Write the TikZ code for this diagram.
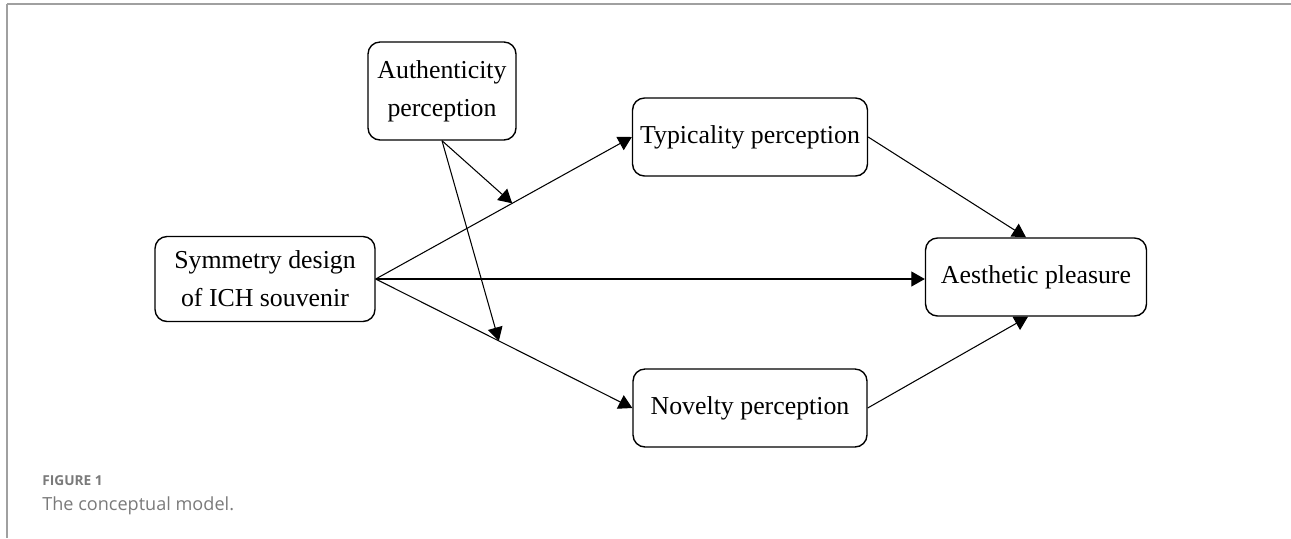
\documentclass[tikz,border=0pt]{standalone}
\usepackage{fontspec}
\setmainfont{Liberation Serif}
\newfontfamily\capfont{Open Sans}
\usetikzlibrary{arrows.meta,calc}
\definecolor{framegray}{HTML}{A0A0A0}
\definecolor{capgray}{HTML}{7A7A7A}
\tikzset{
  box/.style={draw, thick, rounded corners=0.24cm, align=center, inner sep=0pt,
    font=\fontsize{14.7}{21.5}\selectfont},
  link/.style={semithick, -{Triangle[length=0.27cm,width=0.3cm]}},
}
\begin{document}
\begin{tikzpicture}[x=0.02cm,y=-0.02cm]
\useasboundingbox (0,0) rectangle (1291,538);
% frame of the figure
\draw[framegray, thick] (7,4) -- (1291,4);
\draw[framegray, thick] (7,4) -- (7,538);
% boxes
\node[box, minimum width=2.96cm, minimum height=1.96cm] (auth) at (442,91) {Authenticity\\perception};
\node[box, minimum width=4.4cm, minimum height=1.7cm] (sym) at (265,279) {Symmetry design\\of ICH souvenir};
\node[box, minimum width=4.7cm, minimum height=1.56cm] (typ) at (750,137) {Typicality perception};
\node[box, minimum width=4.42cm, minimum height=1.56cm] (aes) at (1036,277) {Aesthetic pleasure};
\node[box, minimum width=4.68cm, minimum height=1.56cm] (nov) at (750,408) {Novelty perception};
% paths
\draw[link] (sym.east) -- (typ.west);
\draw[link] (sym.east) -- (sym.east -| aes.west);
\draw[link] (sym.east) -- (nov.west);
\draw[link] (typ.east) -- ($(aes.north)+(-10,0)$);
\draw[link] (nov.east) -- ($(aes.south)+(-8,0)$);
% moderation
\coordinate (m1) at ($(sym.east)!0.533!(typ.west)$);
\coordinate (m2) at ($(sym.east)!0.48!(nov.west)$);
\draw[link] (auth.south) -- (m1);
\draw[link] (auth.south) -- (m2);
% caption
\node[anchor=base west, inner sep=0pt, text=capgray, font=\capfont\bfseries\fontsize{7.8}{9}\selectfont] (fig) at (42,485) {FIGURE 1};
\node[anchor=base west, inner sep=0pt, text=capgray, font=\capfont\fontsize{10.3}{12}\selectfont] (cap) at (42,510) {The conceptual model.};
\end{tikzpicture}
\end{document}
